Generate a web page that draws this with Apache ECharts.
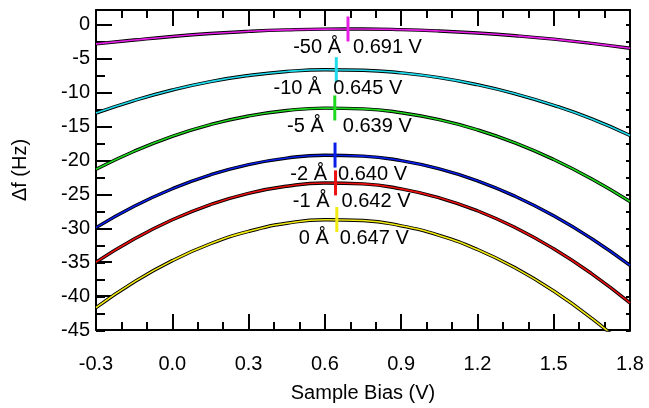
<!DOCTYPE html>
<html>
<head>
<meta charset="utf-8">
<script src="https://cdn.jsdelivr.net/npm/echarts@6/dist/echarts.min.js"></script>
<style>
  html, body { margin: 0; padding: 0; background: #fff; }
  #chart { width: 649px; height: 408px; }
</style>
</head>
<body>
<div id="chart"></div>
<script>
// Sample bias positions (V) at which each frequency-shift curve is sampled
const biasV = [-0.3, -0.15, 0, 0.15, 0.3, 0.45, 0.6, 0.75, 0.9, 1.05, 1.2, 1.35, 1.5, 1.65, 1.8];

// Frequency shift (Hz) for each tip-height offset
const dfMinus50 = [-2.8, -2.23, -1.7, -1.27, -0.95, -0.73, -0.62, -0.61, -0.7, -0.9, -1.2, -1.6, -2.1, -2.72, -3.45];
const dfMinus10 = [-13.0, -11.15, -9.6, -8.36, -7.46, -6.87, -6.61, -6.68, -7.07, -7.78, -8.82, -10.18, -11.86, -13.87, -16.3];
const dfMinus5  = [-21.3, -18.63, -16.43, -14.7, -13.43, -12.62, -12.27, -12.38, -12.95, -13.98, -15.48, -17.43, -19.85, -22.73, -26.05];
const dfMinus2  = [-29.9, -26.75, -24.16, -22.11, -20.6, -19.64, -19.22, -19.35, -20.02, -21.23, -22.99, -25.3, -28.15, -31.54, -35.48];
const dfMinus1  = [-35.0, -31.58, -28.74, -26.5, -24.84, -23.79, -23.32, -23.45, -24.18, -25.5, -27.41, -29.92, -33.02, -36.71, -41.0];
const dfZero    = [-41.7, -37.91, -34.77, -32.28, -30.45, -29.26, -28.73, -28.85, -29.63, -31.05, -33.13, -35.87, -39.25, -43.29, -47.98];

// Tip-height offsets, parabola vertex bias (V) and vertex frequency shift (Hz)
const offsets   = ['-50 Å', '-10 Å', '-5 Å', '-2 Å', '-1 Å', '0 Å'];
const peakBias  = [0.691, 0.645, 0.639, 0.640, 0.642, 0.647];
const peakShift = [-0.6, -6.6, -12.25, -19.2, -23.3, -28.7];

const curves = [dfMinus50, dfMinus10, dfMinus5, dfMinus2, dfMinus1, dfZero];

// Styling
const fitColors = ['#e81ee8', '#1edcec', '#1ed81e', '#0a1eea', '#ec1010', '#f2ea10'];
// horizontal nudges (px) of the offset text end / voltage text start relative to the vertex mark
const nudgeOffsetText = [-7, -15, -11, -8, -6, -8];
const nudgeVoltText   = [5, -3, 8, 3, 6, 3];
const MARK_W = 3, MARK_H = 25, TEXT_DROP = 19;

const FONT = "'Liberation Sans', Arial, Helvetica, sans-serif";
const black = '#000';

const series = [];
curves.forEach((vals, i) => {
  const pts = biasV.map((x, j) => [x, vals[j]]);
  series.push({
    type: 'line', data: pts, smooth: true, symbol: 'none', silent: true,
    xAxisIndex: 0, yAxisIndex: 0, z: 2,
    lineStyle: { color: black, width: 3.4 }
  });
  series.push({
    type: 'line', data: pts, smooth: true, symbol: 'none', silent: true,
    xAxisIndex: 0, yAxisIndex: 0, z: 3,
    lineStyle: { color: fitColors[i], width: 1.6 }
  });
});

// vertex marks with the tip-offset text to their left
series.push({
  type: 'scatter', xAxisIndex: 0, yAxisIndex: 0, z: 4, silent: true,
  symbol: 'rect', symbolSize: [MARK_W, MARK_H],
  itemStyle: { opacity: 1 },
  data: peakBias.map((x, i) => ({
    value: [x, peakShift[i]],
    itemStyle: { color: fitColors[i], opacity: 1 },
    label: {
      show: true,
      position: [MARK_W / 2 + nudgeOffsetText[i], MARK_H / 2 + TEXT_DROP],
      align: 'right', verticalAlign: 'middle', opacity: 1,
      formatter: offsets[i], color: black, fontSize: 20, fontFamily: FONT,
      textBorderWidth: 0
    }
  }))
});
// voltage text to the right of each vertex mark
series.push({
  type: 'scatter', xAxisIndex: 0, yAxisIndex: 0, z: 5, silent: true,
  symbol: 'rect', symbolSize: [2, 2],
  itemStyle: { color: 'rgba(255,255,255,0)', opacity: 1 },
  data: peakBias.map((x, i) => ({
    value: [x, peakShift[i]],
    label: {
      show: true,
      position: [1 + nudgeVoltText[i], 1 + TEXT_DROP],
      align: 'left', verticalAlign: 'middle', opacity: 1,
      formatter: x.toFixed(3) + ' V', color: black, fontSize: 20, fontFamily: FONT,
      textBorderWidth: 0
    }
  }))
});

const frame = { show: true, onZero: false, lineStyle: { color: black, width: 2 } };
const hiddenLine = { show: false, onZero: false };
const tickStyle = { color: black, width: 2 };
const xRange = { type: 'value', min: -0.3, max: 1.8, interval: 0.3 };
const yRange = { type: 'value', min: -45, max: 2.2 };
const plotBox = { left: 96, right: 19, top: 10, bottom: 77, containLabel: false };

const option = {
  animation: false,
  backgroundColor: '#fff',
  // grid 0 holds the curves and the labelled axes; grid 1 (same box) carries the finer y ticks
  grid: [Object.assign({}, plotBox), Object.assign({}, plotBox)],
  xAxis: [
    Object.assign({}, xRange, {
      gridIndex: 0, position: 'bottom',
      axisLine: frame,
      axisTick: { show: true, inside: true, length: 16, lineStyle: tickStyle },
      minorTick: { show: true, splitNumber: 3, length: 8, lineStyle: tickStyle },
      splitLine: { show: false }, minorSplitLine: { show: false },
      axisLabel: {
        margin: 24, fontSize: 20, color: black, fontFamily: FONT,
        formatter: v => (Math.abs(v) < 1e-9 ? 0 : v).toFixed(1)
      },
      name: 'Sample Bias (V)', nameLocation: 'middle', nameGap: 53,
      nameTextStyle: { fontSize: 20, color: black, fontFamily: FONT }
    }),
    Object.assign({}, xRange, {
      gridIndex: 0, position: 'top',
      axisLine: frame,
      axisTick: { show: true, inside: true, length: 16, lineStyle: tickStyle },
      minorTick: { show: true, splitNumber: 3, length: 8, lineStyle: tickStyle },
      splitLine: { show: false }, minorSplitLine: { show: false },
      axisLabel: { show: false }
    }),
    Object.assign({}, xRange, {
      gridIndex: 1, position: 'bottom', show: false
    })
  ],
  yAxis: [
    Object.assign({}, yRange, {
      gridIndex: 0, position: 'left', interval: 5,
      axisLine: frame,
      axisTick: { show: true, inside: true, length: 16, lineStyle: tickStyle },
      splitLine: { show: false },
      axisLabel: { margin: 6, fontSize: 20, color: black, fontFamily: FONT, showMaxLabel: false },
      name: 'Δf (Hz)', nameLocation: 'middle', nameGap: 66, nameRotate: 90,
      nameTextStyle: { fontSize: 20, color: black, fontFamily: FONT }
    }),
    Object.assign({}, yRange, {
      gridIndex: 1, position: 'left', interval: 2.5, alignTicks: false,
      axisLine: hiddenLine,
      axisTick: { show: true, inside: true, length: 9, lineStyle: tickStyle },
      splitLine: { show: false },
      axisLabel: { show: false }
    }),
    Object.assign({}, yRange, {
      gridIndex: 1, position: 'right', interval: 2.5, alignTicks: false,
      axisLine: frame,
      axisTick: { show: true, inside: true, length: 4, lineStyle: tickStyle },
      splitLine: { show: false },
      axisLabel: { show: false }
    })
  ],
  series: series
};

const chart = echarts.init(document.getElementById('chart'), null, { renderer: 'canvas' });
chart.setOption(option);
</script>
</body>
</html>
